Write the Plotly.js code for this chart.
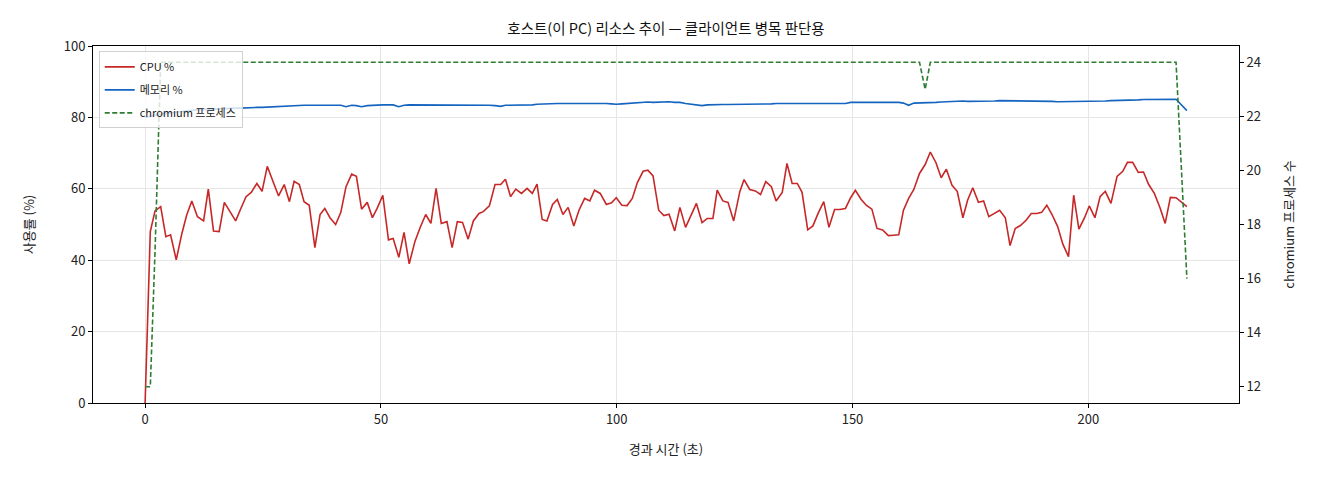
<!DOCTYPE html>
<html>
<head>
<meta charset="utf-8">
<script src="https://cdn.plot.ly/plotly-3.0.1.min.js"></script>
<style>
  html, body { margin: 0; padding: 0; background: #fff; }
  #chart { width: 1320px; height: 480px; }
</style>
</head>
<body>
<div id="chart"></div>
<script>
// elapsed seconds
var elapsed = [
  0, 1.1, 2.1, 3.3, 4.4, 5.4, 6.6, 7.8, 8.8, 9.9, 11.1, 12.4, 13.4, 14.5, 15.7, 16.8, 18.0, 19.2, 20.3, 21.4, 22.5, 23.7, 24.8, 25.9, 27.1, 28.3, 29.5, 30.6,
  31.6, 32.7, 33.7, 34.8, 36.0, 37.1, 38.1, 39.2, 40.4, 41.5, 42.6, 43.8, 44.8, 45.9, 47.1, 48.2, 49.2, 50.4, 51.6, 52.6, 53.8, 54.9, 56.0, 57.2, 58.3, 59.5, 60.6, 61.7,
  62.8, 64.0, 65.1, 66.2, 67.3, 68.5, 69.6, 70.8, 71.7, 73.0, 74.2, 75.4, 76.4, 77.5, 78.6, 79.8, 81.0, 82.1, 83.1, 84.2, 85.2, 86.4, 87.4, 88.6, 89.7, 90.9, 92.0, 93.2, 94.3,
  95.3, 96.5, 97.8, 98.9, 99.9, 101.1, 102.2, 103.3, 104.4, 105.6, 106.6, 107.7, 108.9, 110.0, 111.1, 112.3, 113.4, 114.6, 115.7, 116.9, 118.1, 119.2, 120.4, 121.3, 122.5, 123.6, 124.8, 126.1,
  127.0, 128.2, 129.4, 130.5, 131.6, 132.8, 133.8, 135.1, 136.1, 137.2, 138.3, 139.3, 140.5, 141.6, 142.7, 143.9, 145.0, 146.2, 147.3, 148.5, 149.6, 150.6, 151.8, 152.9, 154.1, 155.2, 156.4, 157.6,
  158.7, 159.8, 160.8, 161.9, 163.0, 164.2, 165.4, 166.5, 167.7, 168.8, 169.9, 171.1, 172.2, 173.4, 174.4, 175.5, 176.7, 177.8, 178.9, 180.1, 181.2, 182.4, 183.4, 184.5, 185.6, 186.8, 187.9, 189.1,
  190.1, 191.2, 192.3, 193.5, 194.6, 195.8, 196.9, 198.0, 199.2, 200.2, 201.4, 202.5, 203.6, 204.8, 206.1, 207.3, 208.3, 209.4, 210.6, 211.7, 212.8, 214.0, 215.2, 216.3, 217.4, 218.6, 220.9
];

var cpuPct = [
  0, 48.0, 53.8, 55.0, 46.6, 47.1, 40.1, 47.5, 52.6, 56.6, 52.2, 51.0, 59.9, 48.2, 48.0, 56.2, 53.6, 51.0, 54.5, 57.8, 59.0, 61.5, 59.3, 66.3, 62.1, 58.0, 61.2, 56.4,
  62.1, 61.2, 56.4, 55.4, 43.5, 52.8, 54.5, 51.9, 50.0, 53.4, 60.6, 64.1, 63.5, 54.3, 56.2, 51.9, 54.5, 58.2, 45.7, 46.1, 40.8, 47.8, 39.0, 45.2, 49.1, 52.8, 50.3, 60.1,
  50.3, 50.8, 43.5, 50.8, 50.6, 45.9, 51.0, 53.1, 53.6, 55.2, 61.2, 61.2, 62.7, 57.8, 59.9, 58.7, 60.1, 58.7, 61.3, 51.4, 51.0, 55.6, 57.0, 52.8, 54.8, 49.6, 54.0, 57.3, 56.6,
  59.6, 58.7, 55.6, 56.1, 57.5, 55.4, 55.3, 57.3, 61.8, 64.9, 65.2, 63.6, 54.0, 52.5, 52.9, 48.2, 54.8, 49.2, 52.6, 55.9, 50.5, 51.7, 51.7, 59.6, 56.6, 56.2, 51.0, 59.2,
  62.6, 59.8, 59.4, 58.4, 62.0, 60.6, 56.6, 59.0, 67.1, 61.5, 61.5, 59.0, 48.5, 49.6, 53.1, 56.4, 49.2, 54.2, 54.2, 54.5, 57.5, 59.6, 57.1, 55.4, 54.3, 48.9, 48.5, 46.9,
  47.0, 47.1, 54.0, 57.3, 59.8, 64.3, 66.8, 70.3, 67.3, 63.1, 65.5, 61.0, 59.3, 51.9, 56.8, 60.3, 56.2, 56.6, 52.2, 53.1, 54.0, 51.9, 44.1, 48.9, 49.7, 51.2, 53.1, 53.1,
  53.4, 55.4, 52.8, 49.4, 44.5, 41.0, 58.2, 48.7, 51.9, 55.2, 51.9, 57.8, 59.3, 55.9, 63.5, 64.9, 67.4, 67.4, 64.6, 64.7, 61.2, 58.7, 54.7, 50.3, 57.6, 57.5, 55.0
];

var memPct = [
  80.0, 80.4, 80.6, 80.9, 81.1, 81.3, 81.5, 81.7, 81.8, 82.0, 82.1, 82.2, 82.3, 82.3, 82.4, 82.5, 82.5, 82.6, 82.6, 82.7, 82.7, 82.8, 82.8, 82.9, 83.0, 83.1, 83.2, 83.3,
  83.3, 83.4, 83.4, 83.4, 83.5, 83.4, 83.4, 83.4, 83.5, 83.4, 83.0, 83.4, 83.3, 83.0, 83.3, 83.4, 83.4, 83.5, 83.5, 83.5, 83.0, 83.4, 83.5, 83.5, 83.6, 83.6, 83.6, 83.5,
  83.5, 83.5, 83.4, 83.4, 83.4, 83.4, 83.4, 83.4, 83.4, 83.4, 83.3, 83.1, 83.4, 83.4, 83.5, 83.4, 83.4, 83.5, 83.7, 83.8, 83.8, 83.8, 83.9, 83.9, 83.9, 84.0, 84.0, 84.0, 84.1,
  84.0, 84.0, 83.9, 83.8, 83.7, 83.8, 83.9, 84.1, 84.2, 84.2, 84.3, 84.2, 84.3, 84.4, 84.4, 84.2, 84.2, 83.9, 83.7, 83.4, 83.3, 83.5, 83.6, 83.6, 83.6, 83.6, 83.6, 83.6,
  83.6, 83.7, 83.7, 83.8, 83.8, 83.8, 83.9, 83.9, 83.9, 83.8, 83.8, 83.8, 83.8, 83.9, 83.9, 83.8, 83.9, 83.8, 83.7, 83.9, 84.2, 84.2, 84.2, 84.3, 84.3, 84.4, 84.4, 84.4,
  84.3, 84.2, 84.0, 83.4, 84.0, 84.0, 84.0, 84.1, 84.2, 84.3, 84.4, 84.5, 84.5, 84.6, 84.5, 84.5, 84.4, 84.5, 84.5, 84.6, 84.7, 84.7, 84.6, 84.5, 84.5, 84.6, 84.6, 84.7,
  84.5, 84.5, 84.5, 84.4, 84.4, 84.4, 84.4, 84.4, 84.4, 84.5, 84.5, 84.6, 84.6, 84.7, 84.7, 84.8, 84.8, 84.9, 84.9, 85.0, 85.0, 85.0, 85.1, 85.0, 85.1, 85.1, 81.9
];

var chromiumCount = [
  12, 12, 17, 24, 24, 24, 24, 24, 24, 24, 24, 24, 24, 24, 24, 24, 24, 24, 24, 24, 24, 24, 24, 24, 24, 24, 24, 24,
  24, 24, 24, 24, 24, 24, 24, 24, 24, 24, 24, 24, 24, 24, 24, 24, 24, 24, 24, 24, 24, 24, 24, 24, 24, 24, 24, 24,
  24, 24, 24, 24, 24, 24, 24, 24, 24, 24, 24, 24, 24, 24, 24, 24, 24, 24, 24, 24, 24, 24, 24, 24, 24, 24, 24, 24, 24,
  24, 24, 24, 24, 24, 24, 24, 24, 24, 24, 24, 24, 24, 24, 24, 24, 24, 24, 24, 24, 24, 24, 24, 24, 24, 24, 24, 24,
  24, 24, 24, 24, 24, 24, 24, 24, 24, 24, 24, 24, 24, 24, 24, 24, 24, 24, 24, 24, 24, 24, 24, 24, 24, 24, 24, 24,
  24, 24, 24, 24, 24, 24, 23, 24, 24, 24, 24, 24, 24, 24, 24, 24, 24, 24, 24, 24, 24, 24, 24, 24, 24, 24, 24, 24,
  24, 24, 24, 24, 24, 24, 24, 24, 24, 24, 24, 24, 24, 24, 24, 24, 24, 24, 24, 24, 24, 24, 24, 24, 24, 24, 16
];

var seriesNames = ['CPU %', '메모리 %', 'chromium 프로세스'];
var xTicks = [0, 50, 100, 150, 200];
var yTicks = [0, 20, 40, 60, 80, 100];
var y2Ticks = [12, 14, 16, 18, 20, 22, 24];

var FONT = '"Noto Sans CJK KR", "Noto Sans", sans-serif';

var traces = [
  {
    x: elapsed, y: cpuPct, name: seriesNames[0], type: 'scatter', mode: 'lines',
    line: {color: '#c62828', width: 1.6}, yaxis: 'y', legendgroup: 'a'
  },
  {
    x: elapsed, y: memPct, name: seriesNames[1], type: 'scatter', mode: 'lines',
    line: {color: '#1565c0', width: 1.6}, yaxis: 'y', legendgroup: 'b'
  },
  {
    x: elapsed, y: chromiumCount, name: seriesNames[2], type: 'scatter', mode: 'lines',
    line: {color: '#2e7d32', width: 1.6, dash: '5px,2.5px'}, yaxis: 'y2', legendgroup: 'c'
  }
];

var layout = {
  width: 1320,
  height: 480,
  margin: {l: 93, r: 81, t: 46, b: 77},
  paper_bgcolor: '#fff',
  plot_bgcolor: '#fff',
  font: {family: FONT, size: 13, color: '#222'},
  title: {
    text: '호스트(이 PC) 리소스 추이 — 클라이언트 병목 판단용',
    font: {family: FONT, size: 14.5, color: '#111'},
    x: 0.5, xref: 'paper', xanchor: 'center',
    y: 0.94, yref: 'container', yanchor: 'middle'
  },
  showlegend: true,
  legend: {
    x: 0.005, y: 0.985, xanchor: 'left', yanchor: 'top',
    bgcolor: 'rgba(255,255,255,0.8)', bordercolor: '#d0d0d0', borderwidth: 1,
    font: {family: FONT, size: 11, color: '#222'},
    itemwidth: 30, traceorder: 'grouped', tracegroupgap: 4
  },
  xaxis: {
    range: [-11.05, 231.95],
    tickvals: xTicks,
    ticks: 'outside', ticklen: 4, tickcolor: '#000',
    showline: true, linecolor: '#000', linewidth: 1, mirror: true,
    showgrid: true, gridcolor: '#e6e6e6', gridwidth: 1,
    zeroline: false,
    tickfont: {size: 13},
    title: {text: '경과 시간 (초)', font: {size: 13}, standoff: 18}
  },
  yaxis: {
    range: [0, 100],
    tickvals: yTicks,
    ticks: 'outside', ticklen: 4, tickcolor: '#000',
    showline: true, linecolor: '#000', linewidth: 1, mirror: true,
    showgrid: true, gridcolor: '#e6e6e6', gridwidth: 1,
    zeroline: false,
    tickfont: {size: 13},
    title: {text: '사용률 (%)', font: {size: 13}, standoff: 26}
  },
  yaxis2: {
    overlaying: 'y', side: 'right',
    range: [11.4, 24.6],
    tickvals: y2Ticks,
    ticks: 'outside', ticklen: 4, tickcolor: '#000',
    showline: true, linecolor: '#000', linewidth: 1,
    showgrid: false, zeroline: false,
    tickfont: {size: 13},
    title: {text: 'chromium 프로세스 수', font: {size: 13}, standoff: 24}
  }
};

Plotly.newPlot('chart', traces, layout, {displayModeBar: false, staticPlot: true});
</script>
</body>
</html>
